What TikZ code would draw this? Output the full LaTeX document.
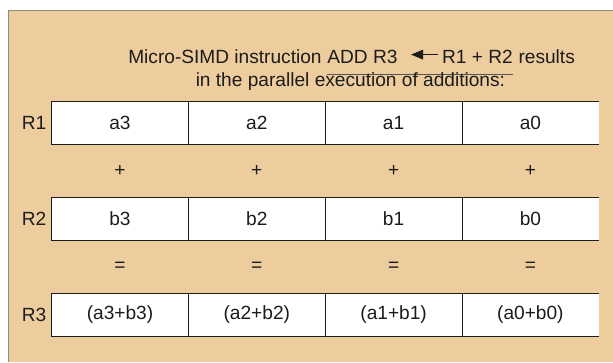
\documentclass[tikz,border=0pt]{standalone}
\usepackage{fontspec}
\setmainfont{Liberation Sans}
\usetikzlibrary{arrows.meta,positioning}
\definecolor{panel}{RGB}{237,205,158}
\definecolor{frame}{RGB}{138,138,138}
\definecolor{ink}{RGB}{28,28,28}
\tikzset{
  txt/.style={font=\fontsize{13.6}{16.3}\selectfont, text=ink},
  head/.style={txt, inner sep=0pt},
  cell/.style={txt, fill=white, minimum width=3.42cm, minimum height=1.05cm, inner sep=0pt},
  rule/.style={ink, line width=0.7pt},
  gets/.style={ink, line width=0.8pt, -{Triangle[length=0.3cm,width=0.24cm]}},
  underbar/.style={ink!75, line width=0.7pt}
}

\begin{document}
\begin{tikzpicture}
  \useasboundingbox (0,0) rectangle (15.325,-9.05);
  % panel
  \fill[panel] (0.2,-0.27) rectangle (15.325,-9.05);
  \draw[frame, line width=0.7pt] (0.2,-9.05) -- (0.2,-0.27) -- (15.325,-0.27);

  % heading, first line in pieces so the instruction can be underlined
  \node[head, anchor=base west] (pre) at (3.2,-1.575) {Micro-SIMD instruction};
  \node[head, base right=0.13cm of pre] (cmd) {ADD R3};
  \node[head, base right=1.1cm of cmd] (ops) {R1 + R2};
  \node[head, base right=0.13cm of ops] (post) {results};
  \draw[gets] ([shift={(-0.1,0.21)}]ops.base west) -- ([shift={(0.33,0.21)}]cmd.base east);
  \draw[underbar] ([yshift=-0.29cm]cmd.base west) -- ([yshift=-0.29cm]ops.base east);
  \node[head, anchor=base] (sub) at (8.76,-2.15) {in the parallel execution of additions:};

  % register R1
  \node[cell] (a3) at ( 3.00,-3.075) {a3};
  \node[cell] (a2) at ( 6.42,-3.075) {a2};
  \node[cell] (a1) at ( 9.84,-3.075) {a1};
  \node[cell] (a0) at (13.26,-3.075) {a0};
  \draw[rule] (a0.north east) -- (a3.north west) -- (a3.south west) -- (a0.south east);
  \draw[rule] (a3.north east) -- (a3.south east)
              (a2.north east) -- (a2.south east)
              (a1.north east) -- (a1.south east);
  \node[txt, anchor=east] (r1) at (a3.west) {R1};

  \node[txt] (p3) at ( 3.00,-4.275) {+};
  \node[txt] (p2) at ( 6.42,-4.275) {+};
  \node[txt] (p1) at ( 9.84,-4.275) {+};
  \node[txt] (p0) at (13.26,-4.275) {+};

  % register R2
  \node[cell] (b3) at ( 3.00,-5.475) {b3};
  \node[cell] (b2) at ( 6.42,-5.475) {b2};
  \node[cell] (b1) at ( 9.84,-5.475) {b1};
  \node[cell] (b0) at (13.26,-5.475) {b0};
  \draw[rule] (b0.north east) -- (b3.north west) -- (b3.south west) -- (b0.south east);
  \draw[rule] (b3.north east) -- (b3.south east)
              (b2.north east) -- (b2.south east)
              (b1.north east) -- (b1.south east);
  \node[txt, anchor=east] (r2) at (b3.west) {R2};

  \node[txt] (e3) at ( 3.00,-6.675) {=};
  \node[txt] (e2) at ( 6.42,-6.675) {=};
  \node[txt] (e1) at ( 9.84,-6.675) {=};
  \node[txt] (e0) at (13.26,-6.675) {=};

  % register R3
  \node[cell] (s3) at ( 3.00,-7.875) {(a3+b3)};
  \node[cell] (s2) at ( 6.42,-7.875) {(a2+b2)};
  \node[cell] (s1) at ( 9.84,-7.875) {(a1+b1)};
  \node[cell] (s0) at (13.26,-7.875) {(a0+b0)};
  \draw[rule] (s0.north east) -- (s3.north west) -- (s3.south west) -- (s0.south east);
  \draw[rule] (s3.north east) -- (s3.south east)
              (s2.north east) -- (s2.south east)
              (s1.north east) -- (s1.south east);
  \node[txt, anchor=east] (r3) at (s3.west) {R3};
\end{tikzpicture}
\end{document}
